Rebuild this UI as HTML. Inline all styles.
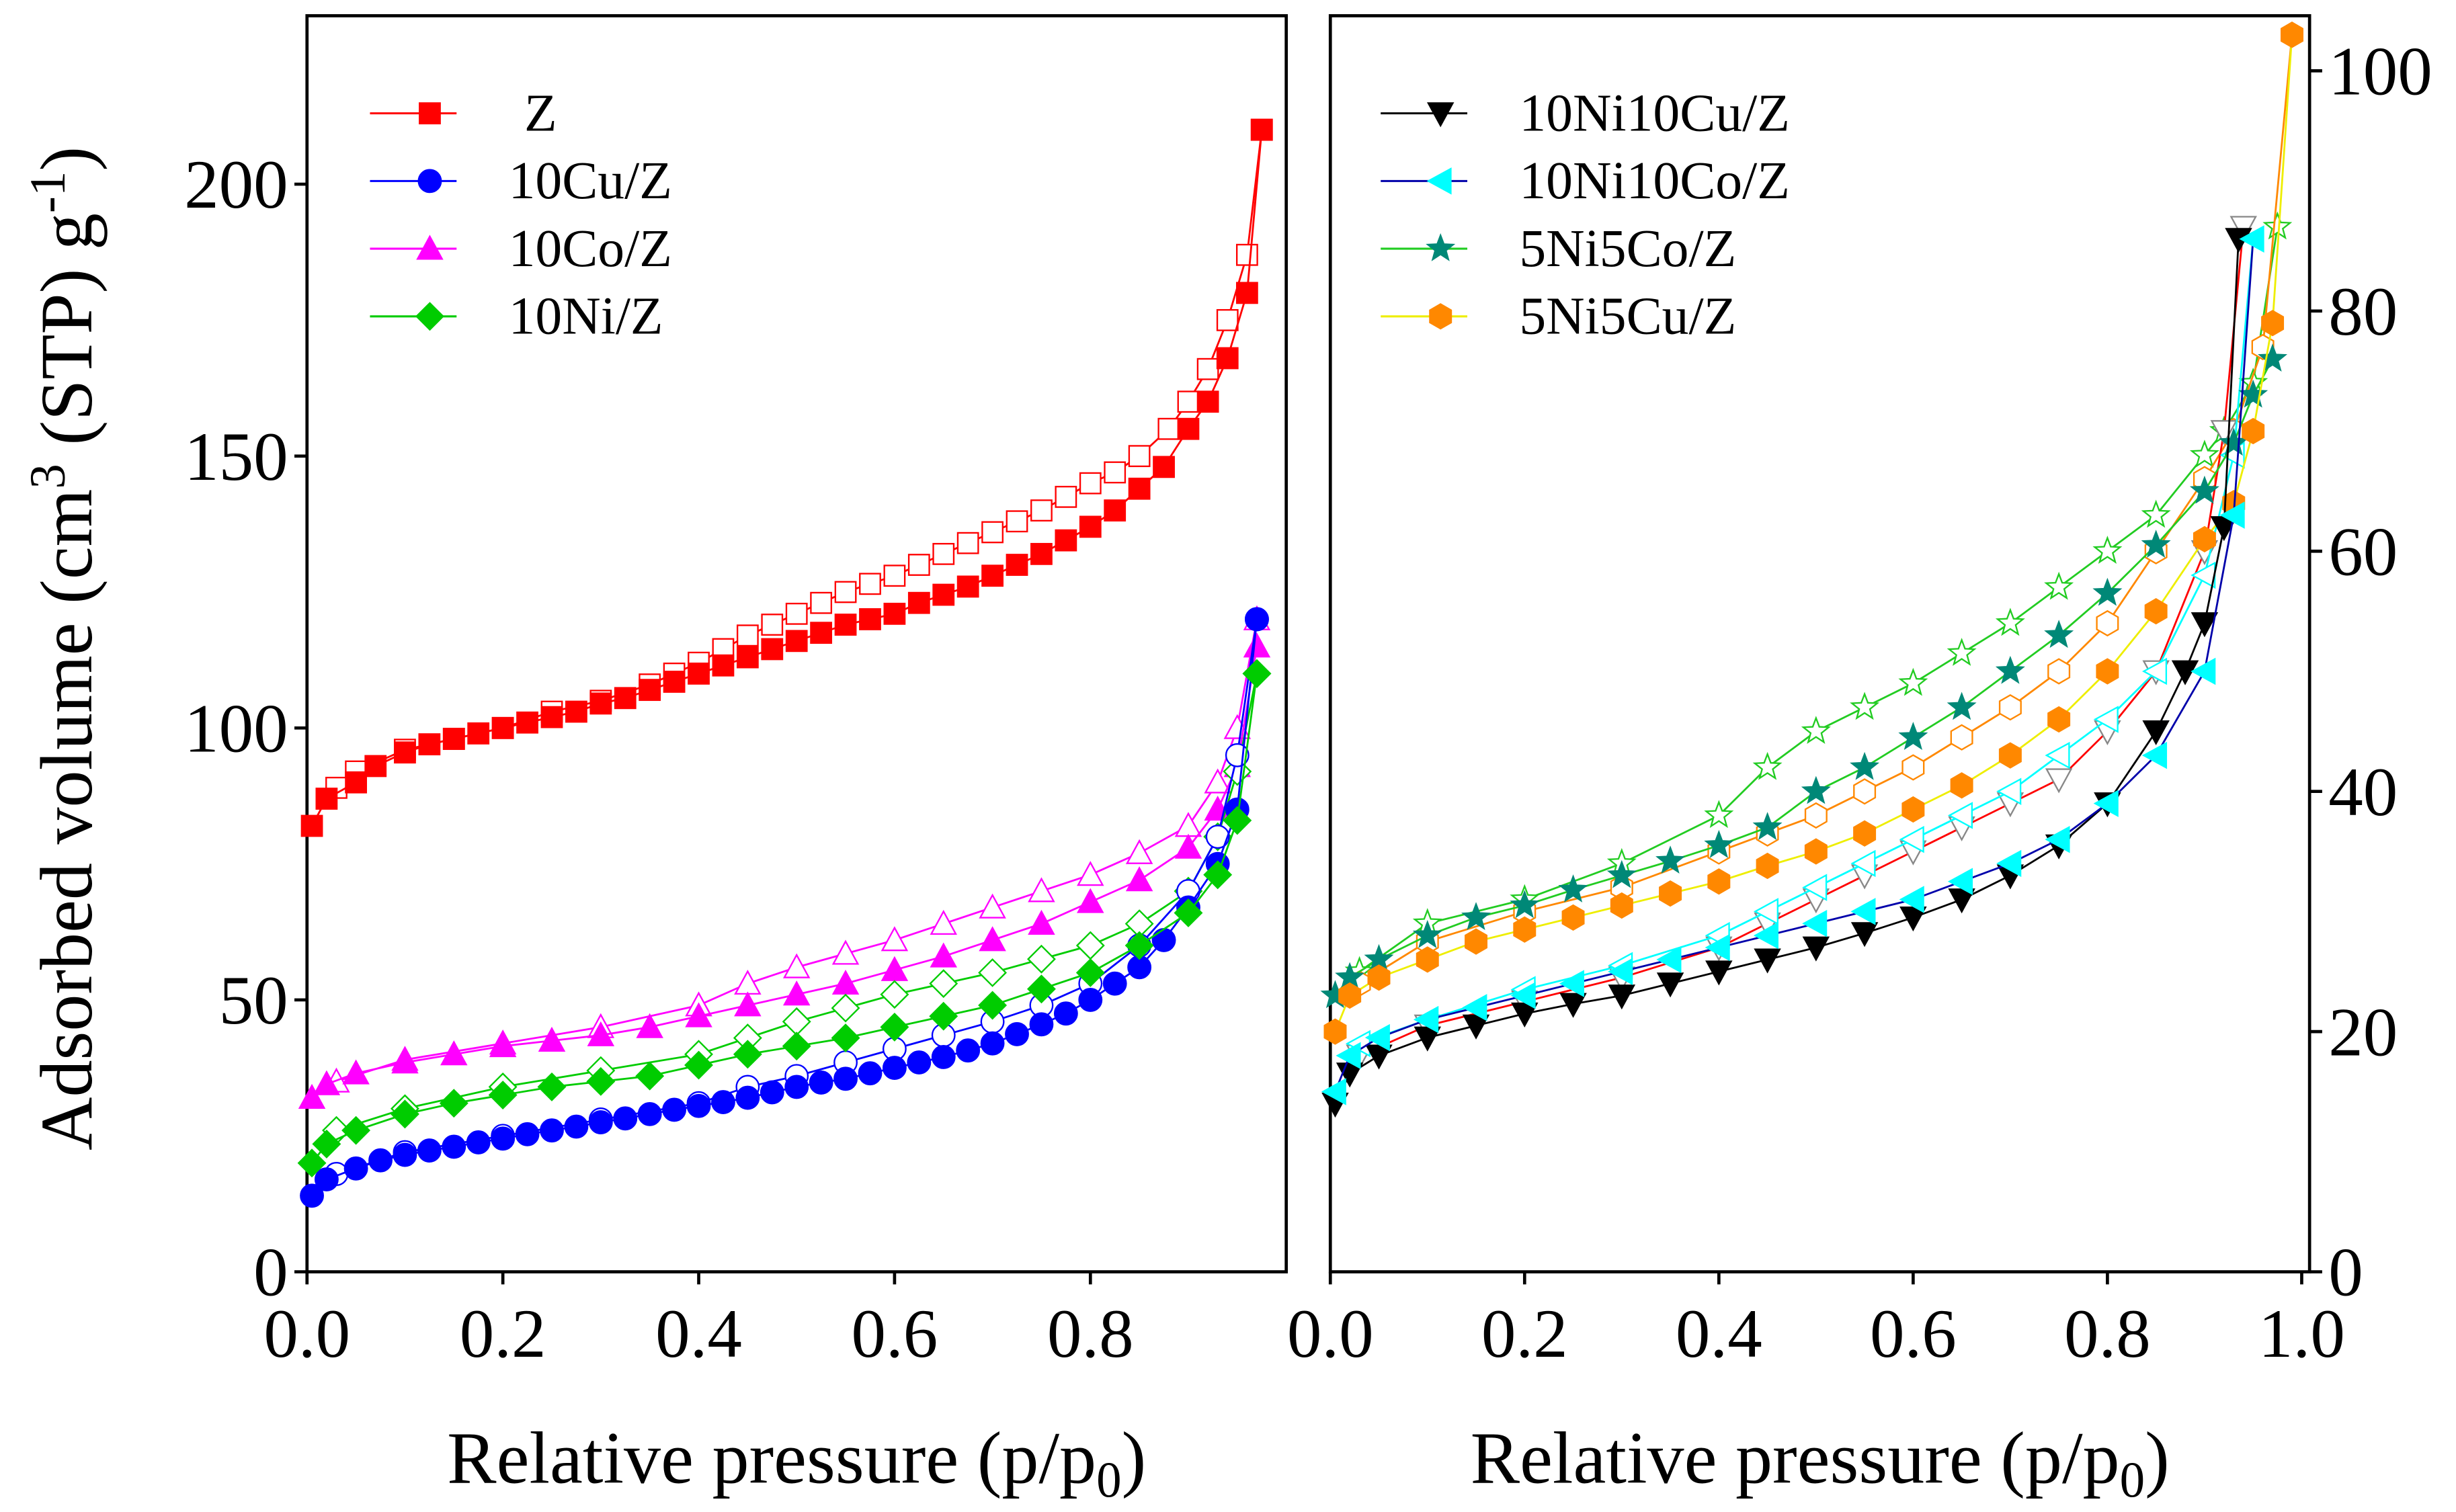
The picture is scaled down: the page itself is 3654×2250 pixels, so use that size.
<!DOCTYPE html>
<html><head><meta charset="utf-8"><style>
html,body{margin:0;padding:0;background:#fff}
svg{display:block}
text{font-family:"Liberation Serif",serif;fill:#000}
</style></head><body>
<svg id="chart" width="3654" height="2250" viewBox="0 0 1560 960.6" xmlns="http://www.w3.org/2000/svg">
<g id="root"></g>
</svg>
<script>
// ---- data: left panel (p/p0, volume) ----
const zAdsP=[0.005,0.02,0.05,0.07,0.1,0.125,0.15,0.175,0.2,0.225,0.25,0.275,0.3,0.325,0.35,0.375,0.4,0.425,0.45,0.475,0.5,0.525,0.55,0.575,0.6,0.625,0.65,0.675,0.7,0.725,0.75,0.775,0.8,0.825,0.85,0.875,0.9,0.92,0.94,0.96,0.975];
const zAdsV=[82,87,90,93,95.5,97,98,99,100,101,102,103,104.5,105.5,107,108.5,110,111.5,113,114.5,116,117.5,119,120,121,123,124.5,126,128,130,132,134.5,137,140,144,148,155,160,168,180,210];
const zDesP=[0.975,0.96,0.94,0.92,0.9,0.88,0.85,0.825,0.8,0.775,0.75,0.725,0.7,0.675,0.65,0.625,0.6,0.575,0.55,0.525,0.5,0.475,0.45,0.425,0.4,0.375,0.35,0.3,0.25,0.2,0.15,0.1,0.05,0.03];
const zDesV=[210,187,175,166,160,155,150,147,145,142.5,140,138,136,134,132,130,128,126.5,125,123,121,119,117,114.5,112,110,108,105,103,100,98,96,92,89];
const cuAdsP=[0.005,0.02,0.05,0.075,0.1,0.125,0.15,0.175,0.2,0.225,0.25,0.275,0.3,0.325,0.35,0.375,0.4,0.425,0.45,0.475,0.5,0.525,0.55,0.575,0.6,0.625,0.65,0.675,0.7,0.725,0.75,0.775,0.8,0.825,0.85,0.875,0.9,0.93,0.95,0.97];
const cuAdsV=[14,17,19,20.5,21.5,22.3,23,23.8,24.5,25.3,26,26.7,27.5,28.2,29,29.8,30.5,31.2,32,33,34,34.8,35.5,36.5,37.5,38.5,39.5,40.7,42,43.7,45.5,47.5,50,53,56,61,67,75,85,120];
const cuDesP=[0.97,0.95,0.93,0.9,0.85,0.8,0.75,0.7,0.65,0.6,0.55,0.5,0.45,0.4,0.3,0.2,0.1,0.03];
const cuDesV=[120,95,80,70,60,53,49,46,43.5,41,38.5,36,34,31,28,25,22,18];
const coAdsP=[0.005,0.02,0.05,0.1,0.15,0.2,0.25,0.3,0.35,0.4,0.45,0.5,0.55,0.6,0.65,0.7,0.75,0.8,0.85,0.9,0.93,0.95,0.97];
const coAdsV=[32,34.5,36.5,38.5,40,41.5,42.5,43.5,45,47,49,51,53,55.5,58,61,64,68,72,78,85,93,115];
const coDesP=[0.97,0.95,0.93,0.9,0.85,0.8,0.75,0.7,0.65,0.6,0.55,0.5,0.45,0.4,0.3,0.2,0.1,0.03];
const coDesV=[120,100,90,82,77,73,70,67,64,61,58.5,56,53,49,45,42,39,35];
const niAdsP=[0.005,0.02,0.05,0.1,0.15,0.2,0.25,0.3,0.35,0.4,0.45,0.5,0.55,0.6,0.65,0.7,0.75,0.8,0.85,0.9,0.93,0.95,0.97];
const niAdsV=[20,23.5,26,29,31,32.5,34,35,36,38,40,41.5,43,45,47,49,52,55,60,66,73,83,110];
const niDesP=[0.97,0.95,0.93,0.9,0.85,0.8,0.75,0.7,0.65,0.6,0.55,0.5,0.45,0.4,0.3,0.2,0.1,0.03];
const niDesV=[110,92,80,70,64,60,57.5,55,53,51,48.5,46,43,40,37,34,30,26];
// ---- data: right panel ----
const ncAdsP=[0.005,0.02,0.05,0.1,0.15,0.2,0.25,0.3,0.35,0.4,0.45,0.5,0.55,0.6,0.65,0.7,0.75,0.8,0.85,0.88,0.9,0.92,0.935];
const ncAdsV=[14,16.5,18,19.5,20.5,21.5,22.3,23,24,25,26,27,28.2,29.5,31,33,35.5,39,45,50,54,62,86];
const ncDesP=[0.94,0.92,0.9,0.85,0.8,0.75,0.7,0.65,0.6,0.55,0.5,0.45,0.4,0.3,0.2,0.1,0.03];
const ncDesV=[87,70,60,50,45,41,39,37,35,33,31,29,27,24.5,22.5,20.5,18];
const nkAdsP=[0.005,0.02,0.05,0.1,0.15,0.2,0.25,0.3,0.35,0.4,0.45,0.5,0.55,0.6,0.65,0.7,0.75,0.8,0.85,0.9,0.93,0.95];
const nkAdsV=[15,18,19.5,21,22,23,24,25,26,27,28,29,30,31,32.5,34,36,39,43,50,63,86];
const nkDesP=[0.95,0.93,0.9,0.85,0.8,0.75,0.7,0.65,0.6,0.55,0.5,0.45,0.4,0.3,0.2,0.1,0.03];
const nkDesV=[86,68,58,50,46,43,40,38,36,34,32,30,28,25.5,23.5,21,19];
const scAdsP=[0.005,0.02,0.05,0.1,0.15,0.2,0.25,0.3,0.35,0.4,0.45,0.5,0.55,0.6,0.65,0.7,0.75,0.8,0.85,0.9,0.93,0.95,0.97];
const scAdsV=[23,24.5,26,28,29.5,30.5,31.8,33,34.2,35.5,37,40,42,44.5,47,50,53,56.5,60.5,65,69,73,76];
const scDesP=[0.975,0.95,0.92,0.9,0.85,0.8,0.75,0.7,0.65,0.6,0.55,0.5,0.45,0.4,0.3,0.2,0.1,0.03];
const scDesV=[87,74,70,68,63,60,57,54,51.5,49,47,45,42,38,34,31,29,25];
const suAdsP=[0.005,0.02,0.05,0.1,0.15,0.2,0.25,0.3,0.35,0.4,0.45,0.5,0.55,0.6,0.65,0.7,0.75,0.8,0.85,0.9,0.93,0.95,0.97,0.99];
const suAdsV=[20,23,24.5,26,27.5,28.5,29.5,30.5,31.5,32.5,33.8,35,36.5,38.5,40.5,43,46,50,55,61,64,70,79,103];
const suDesP=[0.99,0.96,0.93,0.9,0.85,0.8,0.75,0.7,0.65,0.6,0.55,0.5,0.45,0.4,0.3,0.2,0.1,0.03];
const suDesV=[103,77,70,66,60,54,50,47,44.5,42,40,38,36.5,35,32,30,27.5,24];
const leftTicksX=["0.0","0.2","0.4","0.6","0.8"];
const rightTicksX=["0.0","0.2","0.4","0.6","0.8","1.0"];
const leftTicksY=[0,50,100,150,200];
const rightTicksY=[0,20,40,60,80,100];

const NS="http://www.w3.org/2000/svg";
const root=document.getElementById('root');
function mk(tag,attrs,parent){const e=document.createElementNS(NS,tag);for(const k in attrs)e.setAttribute(k,attrs[k]);(parent||root).appendChild(e);return e;}
const T=808;
const L={x0:195,x1:817,y:v=>808-v*(808-117)/200};
const R={x0:845,x1:1467,y:v=>808-v*(808-45)/100};
L.x=p=>195+p*(817-195)/1.0;
R.x=p=>845+p*(1462-845)/1.0;

function marker(shape,x,y,s,fill,stroke,g){
  let e;
  if(shape==='sq'){e=mk('rect',{x:x-s,y:y-s,width:2*s,height:2*s},g);}
  else if(shape==='ci'){e=mk('circle',{cx:x,cy:y,r:s*1.1},g);}
  else if(shape==='tu'){e=mk('polygon',{points:`${x},${y-s*1.2} ${x+s*1.2},${y+s} ${x-s*1.2},${y+s}`},g);}
  else if(shape==='td'){e=mk('polygon',{points:`${x},${y+s*1.2} ${x+s*1.2},${y-s} ${x-s*1.2},${y-s}`},g);}
  else if(shape==='tl'){e=mk('polygon',{points:`${x-s*1.2},${y} ${x+s},${y-s*1.2} ${x+s},${y+s*1.2}`},g);}
  else if(shape==='di'){e=mk('polygon',{points:`${x},${y-s*1.3} ${x+s*1.3},${y} ${x},${y+s*1.3} ${x-s*1.3},${y}`},g);}
  else if(shape==='st'){let pts=[];for(let i=0;i<10;i++){const r=i%2?s*0.55:s*1.3;const a=-Math.PI/2+i*Math.PI/5;pts.push((x+r*Math.cos(a)).toFixed(2)+','+(y+r*Math.sin(a)).toFixed(2));}e=mk('polygon',{points:pts.join(' ')},g);}
  else if(shape==='hx'){let pts=[];for(let i=0;i<6;i++){const a=Math.PI/6+i*Math.PI/3;pts.push((x+s*1.2*Math.cos(a)).toFixed(2)+','+(y+s*1.2*Math.sin(a)).toFixed(2));}e=mk('polygon',{points:pts.join(' ')},g);}
  e.setAttribute('fill',fill);e.setAttribute('stroke',stroke);e.setAttribute('stroke-width','1');
  
  
  return e;
}
function series(ax,P,V,shape,color,lineColor,filled,name){
  const g=mk('g',{});
  
  
  const d=P.map((p,i)=>(i?'L':'M')+ax.x(p).toFixed(2)+','+ax.y(V[i]).toFixed(2)).join(' ');
  const pl=mk('path',{d:d,fill:'none',stroke:lineColor,'stroke-width':1.2},g);
  
  
  P.forEach((p,i)=>marker(shape,ax.x(p),ax.y(V[i]),6.5,filled?color:'#fff',color,g));
}
function frame(ax,ticksX,ticksY,side,name){
  const g=mk('g',{});
  
  
  const f=mk('rect',{x:ax.x0,y:10,width:ax.x1-ax.x0,height:T-10,fill:'none',stroke:'#000','stroke-width':2},g);
  
  
  ticksX.forEach(t=>{const x=ax.x(parseFloat(t));
    mk('line',{x1:x,y1:T,x2:x,y2:T+8,stroke:'#000','stroke-width':2},g);
    const tx=mk('text',{x:x,y:T+54,'font-size':44,'text-anchor':'middle'},g);tx.textContent=t;
    
    
  });
  ticksY.forEach(v=>{const y=ax.y(v);
    if(side==='l'){mk('line',{x1:ax.x0,y1:y,x2:ax.x0-8,y2:y,stroke:'#000','stroke-width':2},g);
      const tx=mk('text',{x:ax.x0-12,y:y+15,'font-size':44,'text-anchor':'end'},g);tx.textContent=v;
      
      }
    else{mk('line',{x1:ax.x1,y1:y,x2:ax.x1+8,y2:y,stroke:'#000','stroke-width':2},g);
      const tx=mk('text',{x:ax.x1+12,y:y+15,'font-size':44,'text-anchor':'start'},g);tx.textContent=v;
      
      }
  });
  const xt=mk('text',{x:(ax.x0+ax.x1)/2,y:942,'font-size':47,'text-anchor':'middle'},g);
  xt.innerHTML='Relative pressure (p/p<tspan font-size="32" dy="9">0</tspan><tspan dy="-9">)</tspan>';
  
  
}
function legend(x0,items,name){
  const g=mk('g',{});
  
  
  items.forEach((it,i)=>{const y=72+i*43;
    const eg=mk('g',{},g);
    
    
    mk('line',{x1:x0,y1:y,x2:x0+55,y2:y,stroke:it[2],'stroke-width':1.3},eg);
    marker(it[1],x0+38,y,6.5,it[3],it[3],eg);
    const t=mk('text',{x:x0+(it[4]||88),y:y+11,'font-size':34},eg);t.textContent=it[0];
  });
}
frame(L,leftTicksX,leftTicksY,'l','left-panel');
frame(R,rightTicksX,rightTicksY,'r','right-panel');
// left series
series(L,zDesP,zDesV,'sq','#f00','#f00',false,'z-desorption');
series(L,zAdsP,zAdsV,'sq','#f00','#f00',true,'z-adsorption');
series(L,coDesP,coDesV,'tu','#f0f','#f0f',false,'10co-desorption');
series(L,coAdsP,coAdsV,'tu','#f0f','#f0f',true,'10co-adsorption');
series(L,niDesP,niDesV,'di','#0c0','#0c0',false,'10ni-desorption');
series(L,cuDesP,cuDesV,'ci','#00f','#00f',false,'10cu-desorption');
series(L,cuAdsP,cuAdsV,'ci','#00f','#00f',true,'10cu-adsorption');
series(L,niAdsP,niAdsV,'di','#0c0','#0c0',true,'10ni-adsorption');
// right series
series(R,scDesP,scDesV,'st','#2c2','#2c2',false,'5ni5co-desorption');
series(R,suDesP,suDesV,'hx','#f80','#f80',false,'5ni5cu-desorption');
series(R,ncDesP,ncDesV,'td','#888','#f00',false,'10ni10cu-desorption');
series(R,nkDesP,nkDesV,'tl','#0ff','#0ff',false,'10ni10co-desorption');
series(R,scAdsP,scAdsV,'st','#087','#2c2',true,'5ni5co-adsorption');
series(R,suAdsP,suAdsV,'hx','#f80','#ee0',true,'5ni5cu-adsorption');
series(R,ncAdsP,ncAdsV,'td','#000','#000',true,'10ni10cu-adsorption');
series(R,nkAdsP,nkAdsV,'tl','#0ff','#00a',true,'10ni10co-adsorption');
legend(235,[['Z','sq','#f00','#f00',98],['10Cu/Z','ci','#00f','#00f'],['10Co/Z','tu','#f0f','#f0f'],['10Ni/Z','di','#0c0','#0c0']],'left-legend');
legend(877,[['10Ni10Cu/Z','td','#000','#000'],['10Ni10Co/Z','tl','#00a','#0ff'],['5Ni5Co/Z','st','#2c2','#087'],['5Ni5Cu/Z','hx','#ee0','#f80']],'right-legend');
const yt=mk('text',{x:0,y:0,'font-size':47,'text-anchor':'middle',transform:'translate(58,412) rotate(-90)'});
yt.innerHTML='Adsorbed volume (cm<tspan font-size="32" dy="-17">3</tspan><tspan dy="17"> (STP) g</tspan><tspan font-size="32" dy="-17">-1</tspan><tspan dy="17">)</tspan>';


</script>
</body></html>
